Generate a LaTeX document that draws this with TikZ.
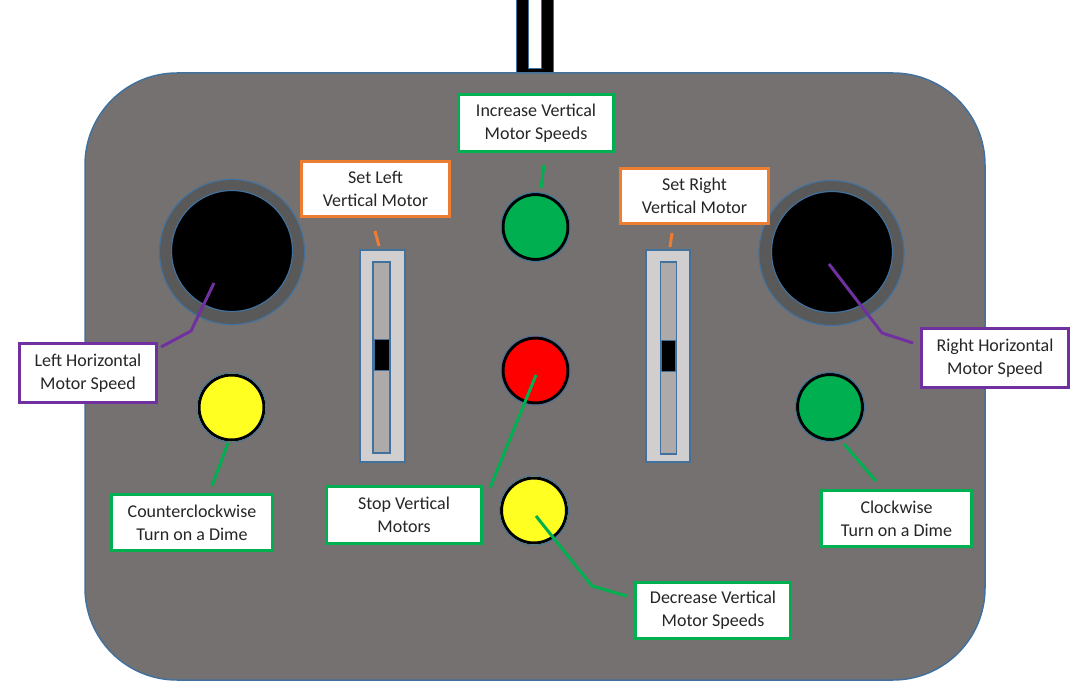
\documentclass[tikz,border=0pt]{standalone}
\usepackage{fontspec}
\setmainfont{Carlito}
\definecolor{bodygray}{HTML}{767171}
\definecolor{ringgray}{HTML}{595959}
\definecolor{edgeblue}{HTML}{41719C}
\definecolor{slidelight}{HTML}{D0CECE}
\definecolor{slidedark}{HTML}{AEAAAA}
\definecolor{btngreen}{HTML}{00B050}
\definecolor{btnred}{HTML}{FF0000}
\definecolor{btnyellow}{HTML}{FFFF21}
\definecolor{lblorange}{HTML}{ED7D31}
\definecolor{lblpurple}{HTML}{7030A0}
\definecolor{lblgreen}{HTML}{00B050}
\definecolor{txt}{HTML}{262626}
\begin{document}
\begin{tikzpicture}[x=1pt,y=-1pt,
  lbl/.style={draw=#1, line width=3pt, fill=white, align=center, inner sep=0pt,
    text=txt, font=\fontsize{18}{23}\selectfont},
  btn/.style={circle, inner sep=0pt, minimum size=69pt, fill=#1, draw=edgeblue, line width=1pt,
    path picture={\draw[black, line width=3pt] (path picture bounding box.center) circle[radius=32.5pt];}},
  ring/.style={circle, inner sep=0pt, minimum size=145pt, fill=ringgray, draw=edgeblue, line width=1.2pt},
  knob/.style={circle, inner sep=0pt, minimum size=121pt, fill=black, draw=edgeblue, line width=1.2pt},
  sframe/.style={rectangle, inner sep=0pt, fill=slidelight, draw=edgeblue, line width=1.2pt},
  strack/.style={rectangle, inner sep=0pt, fill=slidedark, draw=edgeblue, line width=1.2pt},
  sknob/.style={rectangle, inner sep=0pt, fill=black, draw=edgeblue, line width=0.8pt},
  conn/.style={draw=#1, line width=3pt}
]
\useasboundingbox (0,0) rectangle (1087,695);
% cable
\filldraw[fill=black, draw=edgeblue, line width=1pt] (516,-3) rectangle (553,74);
\filldraw[fill=white, draw=edgeblue, line width=1pt] (528,-3) rectangle (541,69);
% body
\draw[fill=bodygray, draw=edgeblue, line width=1.5pt, rounded corners=92pt] (85,73) rectangle (985,680);
% joysticks
\node[ring] (ljring) at (232,252) {};
\node[knob] (ljknob) at (232,251) {};
\node[ring] (rjring) at (831.5,253) {};
\node[knob] (rjknob) at (832,252) {};
% sliders
\node[sframe, minimum width=45pt, minimum height=212pt] (lsframe) at (382.5,356) {};
\node[strack, minimum width=17pt, minimum height=191pt] (lstrack) at (381.5,357.5) {};
\node[sknob, minimum width=15pt, minimum height=31pt] (lsknob) at (381.5,354.5) {};
\node[sframe, minimum width=44pt, minimum height=212pt] (rsframe) at (668,356) {};
\node[strack, minimum width=16pt, minimum height=192pt] (rstrack) at (668.5,358) {};
\node[sknob, minimum width=14pt, minimum height=31pt] (rsknob) at (668.5,355.5) {};
% buttons
\node[btn=btngreen] (incbtn) at (535.5,227) {};
\node[btn=btnred] (stopbtn) at (535.5,370.5) {};
\node[btn=btnyellow] (decbtn) at (534,510.5) {};
\node[btn=btnyellow] (ccwbtn) at (231.5,407.5) {};
\node[btn=btngreen] (cwbtn) at (830,407) {};
% labels
\node[lbl=lblgreen, minimum width=155pt, minimum height=57pt] (inclbl) at (536,123) {Increase Vertical\\Motor Speeds};
\node[lbl=lblorange, minimum width=148pt, minimum height=55pt] (setllbl) at (375.5,189) {Set Left\\Vertical Motor};
\node[lbl=lblorange, minimum width=148pt, minimum height=55pt] (setrlbl) at (694.5,196) {Set Right\\Vertical Motor};
\node[lbl=lblpurple, minimum width=137pt, minimum height=59pt] (lhlbl) at (88,373) {Left Horizontal\\Motor Speed};
\node[lbl=lblpurple, minimum width=147pt, minimum height=59pt] (rhlbl) at (995,358) {Right Horizontal\\Motor Speed};
\node[lbl=lblgreen, minimum width=161pt, minimum height=56pt] (ccwlbl) at (192,522.5) {Counterclockwise\\Turn on a Dime};
\node[lbl=lblgreen, minimum width=155pt, minimum height=57pt] (stoplbl) at (404,515) {Stop Vertical\\Motors};
\node[lbl=lblgreen, minimum width=155pt, minimum height=56pt] (declbl) at (713,610.5) {Decrease Vertical\\Motor Speeds};
\node[lbl=lblgreen, minimum width=150pt, minimum height=56pt] (cwlbl) at (896.5,518.5) {Clockwise\\Turn on a Dime};
% connector points
\coordinate (incA) at (544,165);   \coordinate (incB) at (541,188);
\coordinate (setlA) at (375,231);  \coordinate (setlB) at (379,246);
\coordinate (setrA) at (672,233);  \coordinate (setrB) at (670,247);
\coordinate (lhA) at (214,283);    \coordinate (lhB) at (191,331);  \coordinate (lhC) at (161,347);
\coordinate (rhA) at (829,264);    \coordinate (rhB) at (882,333);  \coordinate (rhC) at (913,343);
\coordinate (ccwA) at (228,443);   \coordinate (ccwB) at (212,486);
\coordinate (stopA) at (536,375);  \coordinate (stopB) at (490,488);
\coordinate (decA) at (536,516);   \coordinate (decB) at (592,586); \coordinate (decC) at (627,596);
\coordinate (cwA) at (844,444);    \coordinate (cwB) at (876,481);
% connectors
\draw[conn=lblgreen] (incA) -- (incB);
\draw[conn=lblorange] (setlA) -- (setlB);
\draw[conn=lblorange] (setrA) -- (setrB);
\draw[conn=lblpurple] (lhA) -- (lhB) -- (lhC);
\draw[conn=lblpurple] (rhA) -- (rhB) -- (rhC);
\draw[conn=lblgreen] (ccwA) -- (ccwB);
\draw[conn=lblgreen] (stopA) -- (stopB);
\draw[conn=lblgreen] (decA) -- (decB) -- (decC);
\draw[conn=lblgreen] (cwA) -- (cwB);
\end{tikzpicture}
\end{document}
